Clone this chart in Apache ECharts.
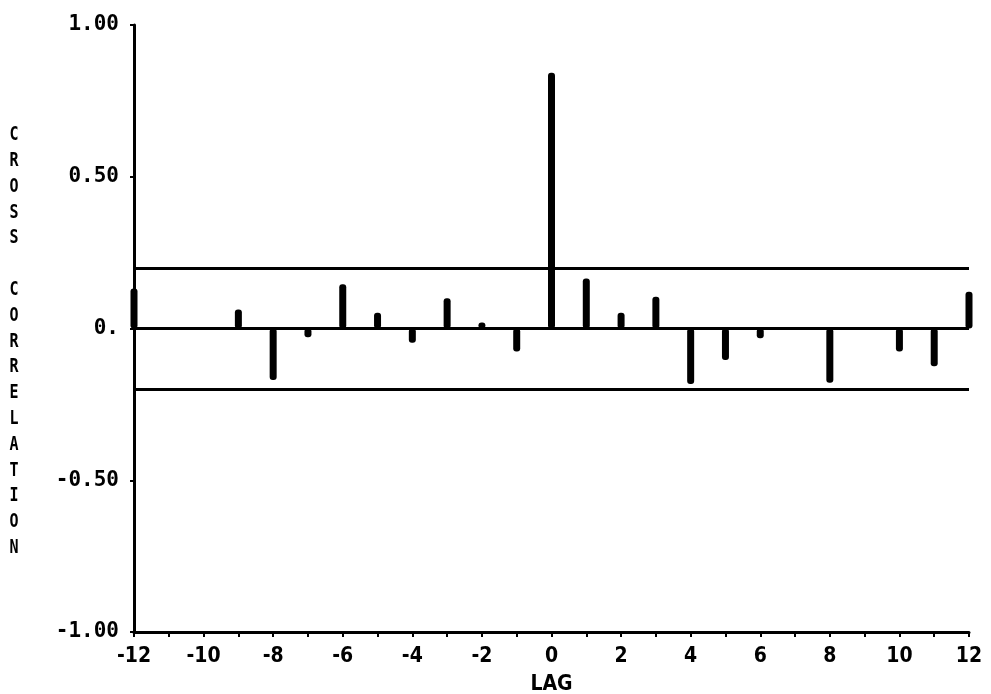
<!DOCTYPE html>
<html>
<head>
<meta charset="utf-8">
<script src="https://cdn.jsdelivr.net/npm/echarts@6/dist/echarts.min.js"></script>
<style>html,body{margin:0;padding:0;background:#fff}#c{width:991px;height:694px}</style>
</head>
<body>
<div id="c"></div>
<script>
var lags = [-12,-11,-10,-9,-8,-7,-6,-5,-4,-3,-2,-1,0,1,2,3,4,5,6,7,8,9,10,11,12];
var crossCorr = [0.132,0,0,0.063,-0.170,-0.029,0.146,0.052,-0.047,0.100,0.020,-0.076,0.843,0.165,0.052,0.105,-0.183,-0.104,-0.032,0,-0.179,0,-0.076,-0.124,0.121];
var confLimits = [0.2,-0.2];
var yTickLabels = {'1':'1.00','0.5':'0.50','0':'0.','-0.5':'-0.50','-1':'-1.00'};
var yTitle = 'CROSS CORRELATION';
var xTitle = 'LAG';

var chart = echarts.init(document.getElementById('c'), null, {renderer:'canvas'});
var monoFam = '"DejaVu Sans Mono", monospace';
var narrowFam = '"Liberation Sans Narrow", "DejaVu Sans Condensed", sans-serif';
var barData = lags.map(function(l,i){return [l, crossCorr[i]];});
var lines = [{yAxis:0}].concat(confLimits.map(function(v){return {yAxis:v};}));

chart.setOption({
  animation:false,
  backgroundColor:'#fff',
  grid:{left:134,right:22,top:25,bottom:62,containLabel:false,outerBoundsMode:'none'},
  xAxis:{
    type:'value',min:-12,max:12,interval:1,
    name:xTitle,nameLocation:'middle',nameGap:42,
    nameTextStyle:{fontFamily:narrowFam,fontWeight:'bold',fontSize:21,color:'#000'},
    axisLine:{onZero:false,lineStyle:{color:'#000',width:3}},
    axisTick:{show:true,length:5,lineStyle:{color:'#000',width:2}},
    axisLabel:{margin:14,fontFamily:narrowFam,fontWeight:'bold',fontSize:21,color:'#000',
      formatter:function(v){return (Math.round(v)%2===0)?String(Math.round(v)):'';}},
    splitLine:{show:false}
  },
  yAxis:{
    type:'value',min:-1,max:1,interval:0.5,
    axisLine:{show:true,onZero:false,lineStyle:{color:'#000',width:3}},
    axisTick:{show:true,length:4,lineStyle:{color:'#000',width:2}},
    axisLabel:{margin:15,fontFamily:monoFam,fontWeight:'bold',fontSize:21,color:'#000',padding:[0,0,12,0],
      formatter:function(v){var k=String(Math.round(v*10)/10);return yTickLabels[k]!==undefined?yTickLabels[k]:'';}},
    splitLine:{show:false}
  },
  graphic:[{
    type:'text',x:14,y:122,scaleX:0.75,
    style:{text:yTitle.split('').join('\n'),fontFamily:monoFam,fontWeight:'bold',fontSize:20,lineHeight:25.8,fill:'#000',textAlign:'center'}
  }],
  series:[{
    type:'bar',data:barData,barWidth:7,
    itemStyle:{color:'#000',borderRadius:3},
    markLine:{
      silent:true,symbol:['none','none'],label:{show:false},
      lineStyle:{color:'#000',width:3,type:'solid'},
      data:lines
    }
  }]
});
</script>
</body>
</html>
